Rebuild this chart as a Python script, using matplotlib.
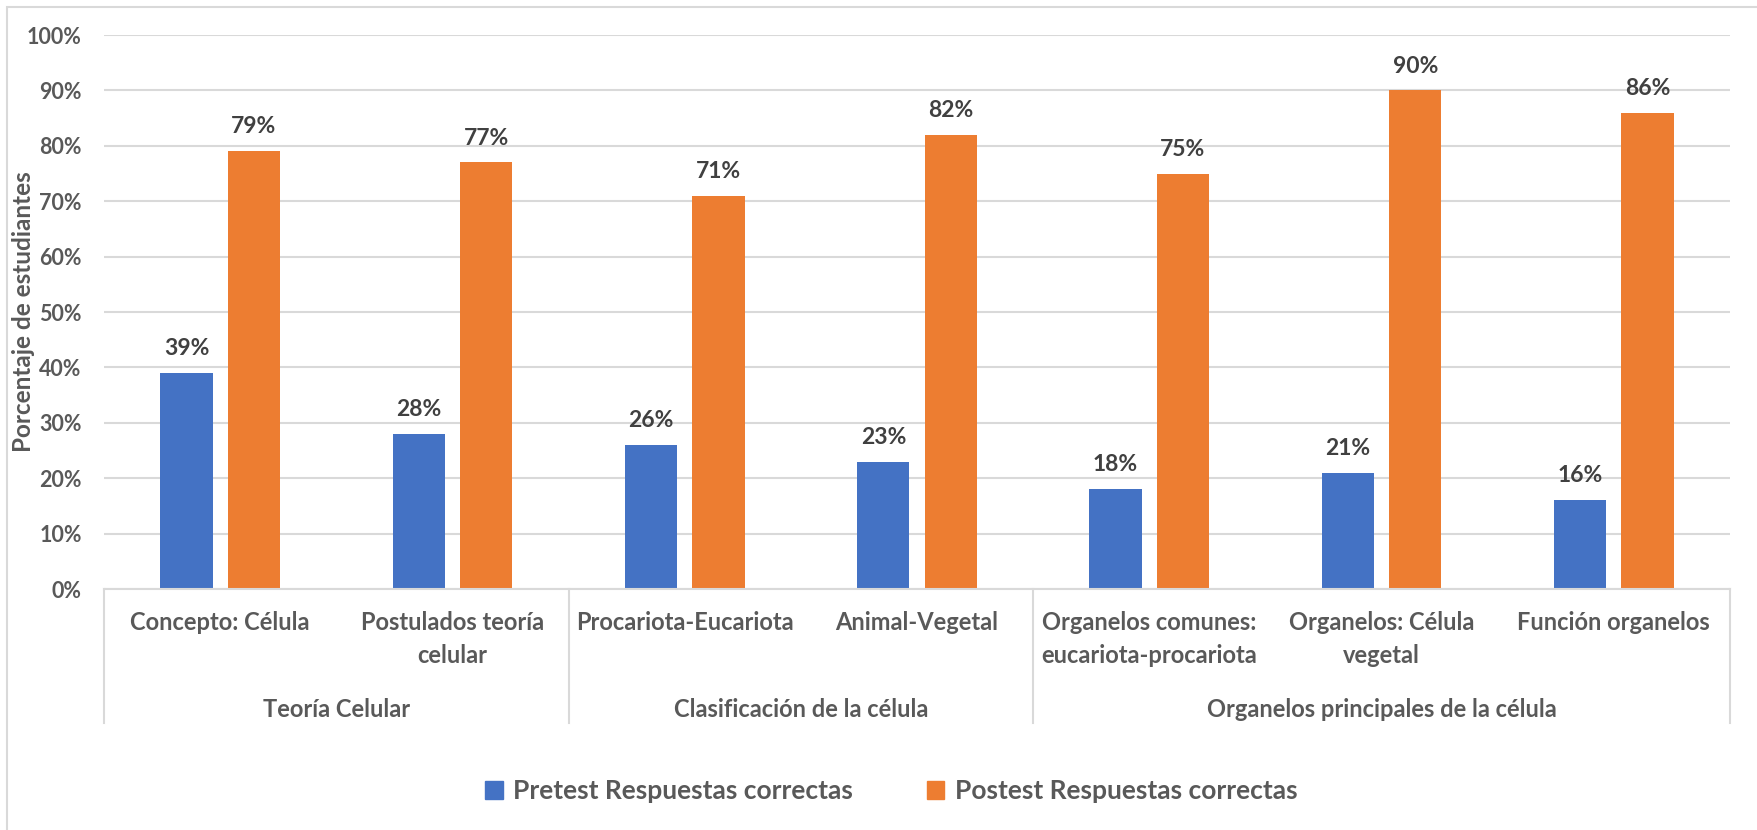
import numpy as np
import matplotlib.pyplot as plt
from matplotlib.patches import Rectangle, Patch
from matplotlib.ticker import PercentFormatter

# Data
categorias = ['Concepto: Célula', 'Postulados teoría\ncelular', 'Procariota-Eucariota',
              'Animal-Vegetal', 'Organelos comunes:\neucariota-procariota',
              'Organelos: Célula\nvegetal', 'Función organelos']
grupos = ['Teoría Celular', 'Clasificación de la célula', 'Organelos principales de la célula']
grupo_tam = [2, 2, 3]
pretest = [39, 28, 26, 23, 18, 21, 16]
postest = [79, 77, 71, 82, 75, 90, 86]
series = ['Pretest Respuestas correctas', 'Postest Respuestas correctas']

azul = '#4472C4'
naranja = '#ED7D31'
gris_txt = '#595959'
gris_lab = '#404040'
gris_lin = '#D9D9D9'

plt.rcParams['font.family'] = ['Lato', 'DejaVu Sans']
plt.rcParams['font.weight'] = 'bold'

fig = plt.figure(figsize=(17.58, 8.30), dpi=100)
ax = fig.add_axes([104 / 1758, 1 - 589 / 830, (1730 - 104) / 1758, (589 - 35) / 830])

# outer chart frame
fig.patches.append(Rectangle((7 / 1758, -0.01), 1.02, 1 - 7 / 830 + 0.01, transform=fig.transFigure,
                             fill=False, edgecolor=gris_lin, linewidth=1.5))

x = np.arange(len(categorias))
w = 0.225
d = 0.145
b1 = ax.bar(x - d, pretest, w, color=azul, zorder=3)
b2 = ax.bar(x + d, postest, w, color=naranja, zorder=3)

for bars, vals in [(b1, pretest), (b2, postest)]:
    for r, v in zip(bars, vals):
        ax.annotate(f'{v}%', (r.get_x() + r.get_width() / 2, v), xytext=(0, 10),
                    textcoords='offset points', ha='center', va='bottom',
                    fontsize=16.5, fontweight='bold', color=gris_lab)

ax.set_xlim(-0.5, len(categorias) - 0.5)
ax.set_ylim(0, 100)
ax.set_yticks(np.arange(0, 101, 10))
ax.yaxis.set_major_formatter(PercentFormatter(decimals=0))
ax.tick_params(axis='y', length=0, labelsize=15.5, labelcolor=gris_txt, pad=16)
ax.tick_params(axis='x', length=0, labelbottom=False)
for t in ax.get_yticklabels():
    t.set_fontweight('bold')
ax.grid(axis='y', color=gris_lin, linewidth=1.5, zorder=0)
for s in ['top', 'right', 'left']:
    ax.spines[s].set_visible(False)
ax.spines['bottom'].set_color(gris_lin)
ax.spines['bottom'].set_linewidth(1.5)
ax.spines['bottom'].set_zorder(4)

ax.set_ylabel('Porcentaje de estudiantes', fontsize=17.5, color=gris_txt, fontweight='bold')
ax.yaxis.set_label_coords(-0.0425, 0.5)

# multi-level category axis
tr = ax.get_xaxis_transform()
for i, c in enumerate(categorias):
    ax.text(i, -0.04, c, transform=tr, ha='center', va='top', fontsize=17,
            color=gris_txt, linespacing=1.5, fontweight='bold')

pos = -0.5
seps = [pos]
for g, n in zip(grupos, grupo_tam):
    ax.text(pos + n / 2, -0.218, g, transform=tr, ha='center', va='center',
            fontsize=17, color=gris_txt, fontweight='bold')
    pos += n
    seps.append(pos)
for s in seps:
    ax.plot([s, s], [0, -0.242], transform=tr, color=gris_lin, linewidth=1.5, clip_on=False)

handles = [Patch(color=azul), Patch(color=naranja)]
fig.legend(handles, series, loc='center', bbox_to_anchor=(0.507, 0.047), ncol=2, frameon=False,
           prop={'size': 19, 'weight': 'bold'}, labelcolor=gris_txt, handlelength=0.65,
           handleheight=0.65, handletextpad=0.4, columnspacing=2.8)

fig.savefig('out.png', dpi=100)
